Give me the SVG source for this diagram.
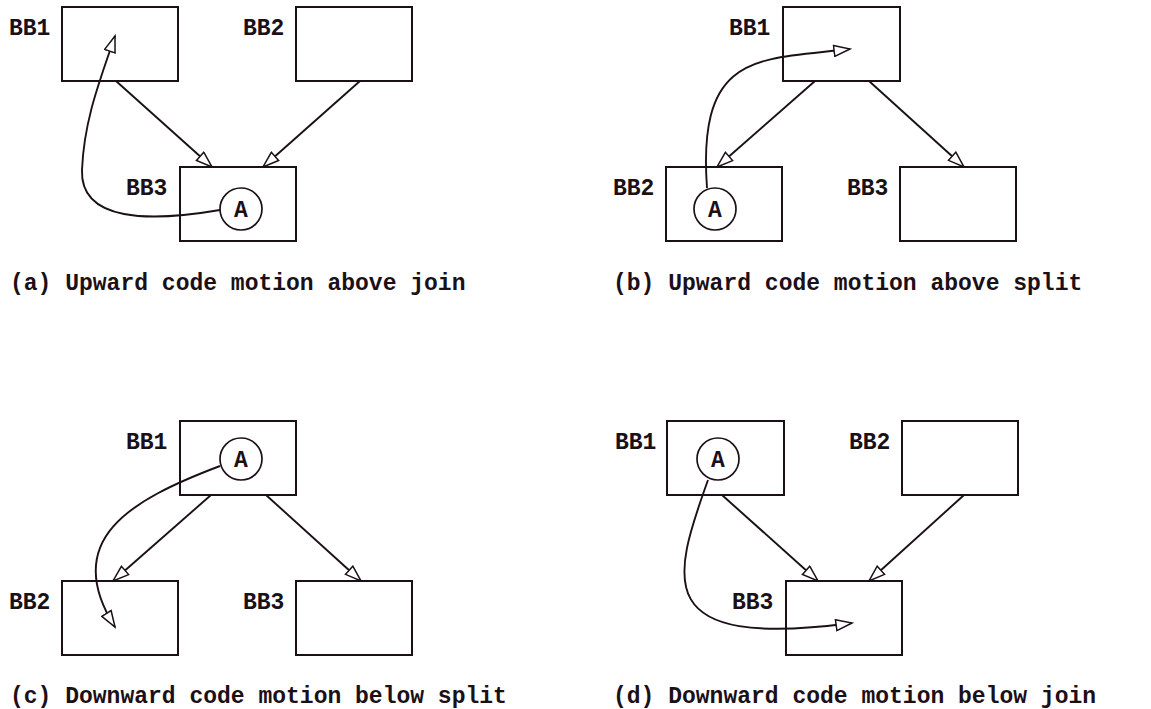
<svg xmlns="http://www.w3.org/2000/svg" width="1151" height="709" viewBox="0 0 1151 709">
<style>
.box{fill:none;stroke:#1c1017;stroke-width:2}
.circ{fill:#fff;stroke:#1c1017;stroke-width:1.7}
.edge{fill:none;stroke:#1c1017;stroke-width:1.9;marker-end:url(#ah)}
.lbl{font-family:"Liberation Mono","DejaVu Sans Mono",monospace;font-weight:bold;font-size:23px;fill:#1c1017}
.a{text-anchor:middle}
</style>
<defs>
<marker id="ah" markerWidth="19" markerHeight="13" refX="16" refY="5.5" orient="auto" markerUnits="userSpaceOnUse" viewBox="-1 -1 19 13">
<path d="M0,0 L16,5.5 L0,11 z" fill="#fff" stroke="#1c1017" stroke-width="1.5"/>
</marker>
</defs>
<rect width="1151" height="709" fill="#fff"/>

<!-- (a) -->
<g id="a-BB1"><rect class="box" x="62" y="7" width="116" height="74"/><text class="lbl" x="9" y="35">BB1</text></g>
<g id="a-BB2"><rect class="box" x="296" y="7" width="116" height="74"/><text class="lbl" x="243" y="35">BB2</text></g>
<g id="a-BB3"><rect class="box" x="180" y="167" width="116" height="74"/><text class="lbl" x="126" y="195">BB3</text></g>

<!-- (b) -->
<g id="b-BB1"><rect class="box" x="783" y="7" width="117" height="74"/><text class="lbl" x="729" y="35">BB1</text></g>
<g id="b-BB2"><rect class="box" x="666" y="167" width="116" height="74"/><text class="lbl" x="613" y="195">BB2</text></g>
<g id="b-BB3"><rect class="box" x="900" y="167" width="116" height="74"/><text class="lbl" x="847" y="195">BB3</text></g>

<!-- (c) -->
<g id="c-BB1"><rect class="box" x="180" y="421" width="116" height="74"/><text class="lbl" x="126" y="449">BB1</text></g>
<g id="c-BB2"><rect class="box" x="62" y="581" width="116" height="74"/><text class="lbl" x="9" y="609">BB2</text></g>
<g id="c-BB3"><rect class="box" x="296" y="581" width="116" height="74"/><text class="lbl" x="243" y="609">BB3</text></g>

<!-- (d) -->
<g id="d-BB1"><rect class="box" x="667" y="421" width="117" height="74"/><text class="lbl" x="615" y="449">BB1</text></g>
<g id="d-BB2"><rect class="box" x="902" y="421" width="116" height="74"/><text class="lbl" x="849" y="449">BB2</text></g>
<g id="d-BB3"><rect class="box" x="786" y="581" width="116" height="74"/><text class="lbl" x="732" y="609">BB3</text></g>

<g id="connectors">
<path class="edge" d="M116,81 L212,167"/>
<path class="edge" d="M360,81 L263,167"/>
<path class="edge" d="M220,210 C150,222 80,222 82,170 C84,120 100,80 115,36"/>

<path class="edge" d="M815,81 L717,167"/>
<path class="edge" d="M869,81 L964,167"/>
<path class="edge" d="M707,188 C697,50 760,60 850,49"/>

<path class="edge" d="M211,495 L113,581"/>
<path class="edge" d="M266,495 L361,581"/>
<path class="edge" d="M220,466 C130,500 60,540 115,627"/>

<path class="edge" d="M722,495 L818,581"/>
<path class="edge" d="M964,495 L869,581"/>
<path class="edge" d="M708,480 C672,580 650,650 852,623"/>
</g>

<g id="a-A"><circle class="circ" cx="241" cy="209" r="21"/><text class="lbl a" x="241" y="217">A</text></g>
<g id="b-A"><circle class="circ" cx="715" cy="209" r="21"/><text class="lbl a" x="715" y="217">A</text></g>
<g id="c-A"><circle class="circ" cx="241" cy="459" r="21"/><text class="lbl a" x="241" y="467">A</text></g>
<g id="d-A"><circle class="circ" cx="718" cy="459" r="21"/><text class="lbl a" x="718" y="467">A</text></g>

<g id="captions">
<text class="lbl" x="10" y="290">(a) Upward code motion above join</text>
<text class="lbl" x="613" y="290">(b) Upward code motion above split</text>
<text class="lbl" x="10" y="703">(c) Downward code motion below split</text>
<text class="lbl" x="613" y="703">(d) Downward code motion below join</text>
</g>
</svg>
